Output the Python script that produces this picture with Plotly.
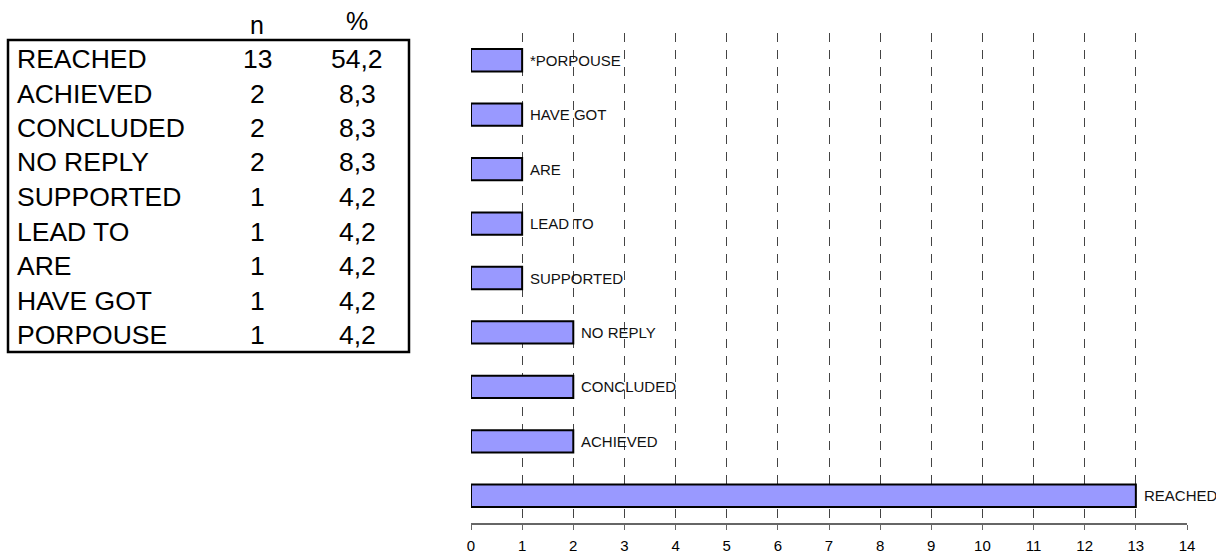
import plotly.graph_objects as go

categories = ["REACHED", "ACHIEVED", "CONCLUDED", "NO REPLY", "SUPPORTED",
              "LEAD TO", "ARE", "HAVE GOT", "PORPOUSE"]
counts = [13, 2, 2, 2, 1, 1, 1, 1, 1]
percents = ["54,2", "8,3", "8,3", "8,3", "4,2", "4,2", "4,2", "4,2", "4,2"]
bar_labels = ["REACHED", "ACHIEVED", "CONCLUDED", "NO REPLY", "SUPPORTED",
              "LEAD TO", "ARE", "HAVE GOT", "*PORPOUSE"]
x_ticks = list(range(0, 15))

W, H = 1216, 553
L, R, T, B = 471, 29, 33, 30
PW, PH = W - L - R, H - T - B

def px(xp):
    return (xp - L) / PW

def py(yp):
    return (H - B - yp) / PH

FONT = "Liberation Sans, Arial, sans-serif"

fig = go.Figure()
fig.add_trace(go.Bar(
    x=counts, y=categories, orientation="h", width=0.41,
    marker=dict(color="#9999FF", line=dict(color="black", width=2)),
    hoverinfo="x+y",
))

annotations = []
for cat, v, lab in zip(categories, counts, bar_labels):
    annotations.append(dict(x=v, y=cat, xref="x", yref="y", text=lab,
                            showarrow=False, xanchor="left", yanchor="middle",
                            xshift=6, font=dict(size=15, color="#111111", family=FONT)))

# table
row0, dy = 59, 34.5
annotations.append(dict(x=px(257), y=py(25), xref="paper", yref="paper", text="n",
                        showarrow=False, xanchor="center", yanchor="middle",
                        font=dict(size=25, color="black", family=FONT)))
annotations.append(dict(x=px(357), y=py(21), xref="paper", yref="paper", text="%",
                        showarrow=False, xanchor="center", yanchor="middle",
                        font=dict(size=25, color="black", family=FONT)))
for i, (cat, n, p) in enumerate(zip(categories, counts, percents)):
    yy = py(row0 + i * dy)
    annotations.append(dict(x=px(15), y=yy, xref="paper", yref="paper", text=cat,
                            showarrow=False, xanchor="left", yanchor="middle",
                            font=dict(size=26.5, color="black", family=FONT)))
    annotations.append(dict(x=px(257), y=yy, xref="paper", yref="paper", text=str(n),
                            showarrow=False, xanchor="center", yanchor="middle",
                            font=dict(size=26.5, color="black", family=FONT)))
    annotations.append(dict(x=px(357), y=yy, xref="paper", yref="paper", text=p,
                            showarrow=False, xanchor="center", yanchor="middle",
                            font=dict(size=26.5, color="black", family=FONT)))

shapes = [dict(type="rect", xref="paper", yref="paper",
               x0=px(8), x1=px(409), y0=py(352), y1=py(40),
               line=dict(color="black", width=2.5), fillcolor="rgba(0,0,0,0)")]

fig.update_layout(
    width=W, height=H,
    margin=dict(l=L, r=R, t=T, b=B, autoexpand=False),
    paper_bgcolor="white", plot_bgcolor="white",
    showlegend=False,
    font=dict(family=FONT, color="black"),
    annotations=annotations, shapes=shapes,
    xaxis=dict(range=[0, 14], tickvals=x_ticks, ticktext=[str(t) for t in x_ticks],
               showgrid=True, gridcolor="#444444", gridwidth=1, griddash="9px,8px",
               zeroline=False, showline=True, linecolor="#666666", linewidth=1.5,
               ticks="outside", ticklen=5, tickcolor="#666666",
               ticklabelstandoff=3, automargin=False,
               tickfont=dict(size=15, family=FONT, color="black"), fixedrange=True),
    yaxis=dict(categoryorder="array", categoryarray=categories, range=[-0.5, 8.5],
               showticklabels=False, showgrid=False, zeroline=False, showline=False,
               ticks="", fixedrange=True, automargin=False),
)

fig.write_html("out.html", post_script="document.body.style.margin='0';",
               config={"displayModeBar": False})
